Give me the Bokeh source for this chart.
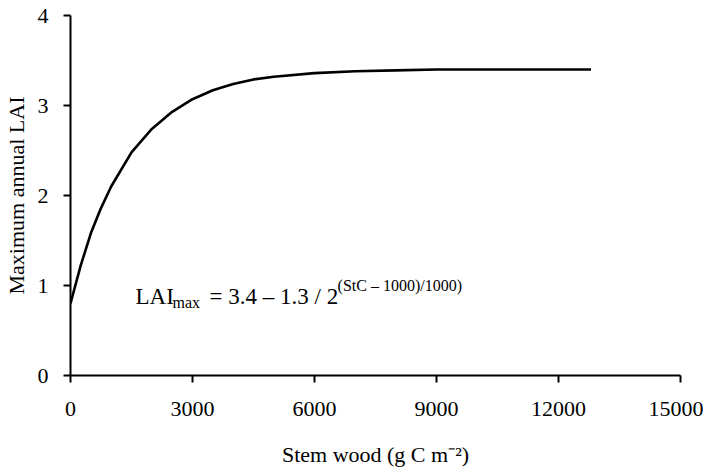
from bokeh.plotting import figure
from bokeh.models import Range1d, FixedTicker
from bokeh.core.properties import value
from bokeh.embed import file_html
from bokeh.resources import INLINE

# Data
stem_wood = [0, 250, 500, 750, 1000, 1500, 2000, 2500, 3000, 3500, 4000, 4500,
             5000, 6000, 7000, 8000, 9000, 10000, 11000, 12000, 12800]
lai_max = [0.80, 1.22, 1.58, 1.86, 2.10, 2.48, 2.74, 2.93, 3.07, 3.17, 3.24, 3.29,
           3.32, 3.36, 3.38, 3.39, 3.40, 3.40, 3.40, 3.40, 3.40]
x_ticks = [0, 3000, 6000, 9000, 12000, 15000]
y_ticks = [0, 1, 2, 3, 4]

FONT = "Liberation Serif"

p = figure(width=703, height=469, output_backend="svg", toolbar_location=None,
           x_range=Range1d(0, 15000), y_range=Range1d(0, 4),
           min_border_left=70, min_border_right=23, min_border_top=15, min_border_bottom=93)
p.outline_line_color = None
p.xgrid.visible = False
p.ygrid.visible = False
p.background_fill_color = "white"
p.border_fill_color = "white"

p.line(stem_wood, lai_max, line_color="black", line_width=2.6)

for ax, ticks in ((p.xaxis[0], x_ticks), (p.yaxis[0], y_ticks)):
    ax.ticker = FixedTicker(ticks=ticks, minor_ticks=[])
    ax.axis_line_width = 2
    ax.axis_line_color = "black"
    ax.major_tick_line_width = 2
    ax.major_tick_line_color = "black"
    ax.major_tick_out = 7
    ax.major_tick_in = 0
    ax.minor_tick_out = 0
    ax.minor_tick_in = 0
    ax.major_label_text_font = FONT
    ax.major_label_text_font_size = "22px"
    ax.major_label_text_color = "black"
    ax.axis_label_text_font = FONT
    ax.axis_label_text_font_size = "22px"
    ax.axis_label_text_font_style = "normal"
    ax.axis_label_text_color = "black"

p.xaxis[0].axis_label = "Stem wood (g C m\u207b\u00b2)"
p.xaxis[0].major_label_standoff = 19
p.xaxis[0].axis_label_standoff = 23
p.yaxis[0].axis_label = "Maximum annual LAI"
p.yaxis[0].major_label_standoff = 15
p.yaxis[0].axis_label_standoff = 6

# Equation annotation, built from pieces
eq_x = [1600]
eq_y = [0.88]
p.text(x=eq_x, y=eq_y, text=["LAI"], text_font=value(FONT), text_font_size="23px",
       text_baseline="alphabetic", text_align="left", text_color="black")
p.text(x=eq_x, y=eq_y, text=["max"], x_offset=37, y_offset=6, text_font=value(FONT),
       text_font_size="16px", text_baseline="alphabetic", text_align="left", text_color="black")
p.text(x=eq_x, y=eq_y, text=["= 3.4 \u2013 1.3 / 2"], x_offset=74, text_font=value(FONT),
       text_font_size="23px", text_baseline="alphabetic", text_align="left", text_color="black")
p.text(x=eq_x, y=eq_y, text=["(StC \u2013 1000)/1000)"], x_offset=202, y_offset=-11,
       text_font=value(FONT), text_font_size="16px", text_baseline="alphabetic",
       text_align="left", text_color="black")

open("out.html", "w").write(file_html(p, INLINE))
